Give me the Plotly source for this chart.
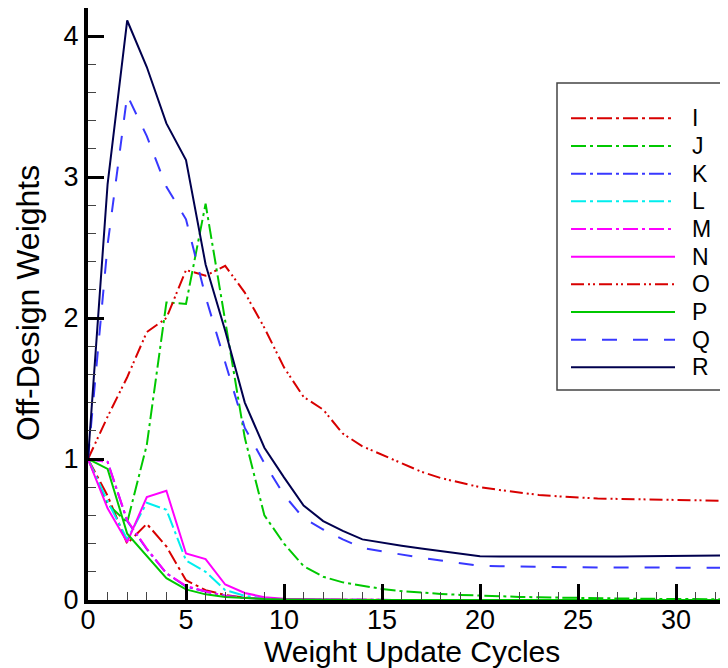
import plotly.graph_objects as go

# ---------------- data ----------------
cycles = list(range(35))

series_names = ["I", "J", "K", "L", "M", "N", "O", "P", "Q", "R"]

vals_I = [1.00, 0.74, 0.40, 0.54, 0.38, 0.14, 0.07, 0.035, 0.017, 0.008,
          0.004, 0.002, 0.001, 0.001, 0.0, 0.0, 0.0, 0.0, 0.0, 0.0,
          0.0, 0.0, 0.0, 0.0, 0.0, 0.0, 0.0, 0.0, 0.0, 0.0,
          0.0, 0.0, 0.0, 0.0, 0.0]
vals_J = [1.00, 0.68, 0.55, 1.10, 2.11, 2.10, 2.81, 1.98, 1.15, 0.60,
          0.40, 0.24, 0.165, 0.125, 0.10, 0.078, 0.063, 0.052, 0.043, 0.036,
          0.030, 0.026, 0.022, 0.019, 0.016, 0.013, 0.011, 0.010, 0.009, 0.008,
          0.007, 0.006, 0.005, 0.005, 0.004]
vals_K = [1.00, 0.98, 0.56, 0.36, 0.19, 0.095, 0.06, 0.03, 0.015, 0.008,
          0.004, 0.002, 0.001, 0.0, 0.0, 0.0, 0.0, 0.0, 0.0, 0.0,
          0.0, 0.0, 0.0, 0.0, 0.0, 0.0, 0.0, 0.0, 0.0, 0.0,
          0.0, 0.0, 0.0, 0.0, 0.0]
vals_L = [1.00, 0.70, 0.43, 0.69, 0.64, 0.28, 0.20, 0.07, 0.03, 0.012,
          0.005, 0.002, 0.001, 0.0, 0.0, 0.0, 0.0, 0.0, 0.0, 0.0,
          0.0, 0.0, 0.0, 0.0, 0.0, 0.0, 0.0, 0.0, 0.0, 0.0,
          0.0, 0.0, 0.0, 0.0, 0.0]
vals_M = [1.00, 0.98, 0.565, 0.365, 0.19, 0.10, 0.06, 0.03, 0.015, 0.008,
          0.004, 0.002, 0.001, 0.0, 0.0, 0.0, 0.0, 0.0, 0.0, 0.0,
          0.0, 0.0, 0.0, 0.0, 0.0, 0.0, 0.0, 0.0, 0.0, 0.0,
          0.0, 0.0, 0.0, 0.0, 0.0]
vals_N = [1.00, 0.65, 0.41, 0.73, 0.775, 0.33, 0.29, 0.11, 0.05, 0.02,
          0.008, 0.004, 0.002, 0.001, 0.0, 0.0, 0.0, 0.0, 0.0, 0.0,
          0.0, 0.0, 0.0, 0.0, 0.0, 0.0, 0.0, 0.0, 0.0, 0.0,
          0.0, 0.0, 0.0, 0.0, 0.0]
vals_O = [1.00, 1.30, 1.58, 1.90, 2.00, 2.34, 2.30, 2.37, 2.18, 1.93,
          1.65, 1.44, 1.35, 1.18, 1.09, 1.03, 0.97, 0.91, 0.865, 0.83,
          0.80, 0.78, 0.76, 0.745, 0.735, 0.725, 0.72, 0.717, 0.714, 0.712,
          0.71, 0.708, 0.705, 0.702, 0.70]
vals_P = [1.00, 0.93, 0.47, 0.31, 0.155, 0.075, 0.04, 0.022, 0.012, 0.007,
          0.004, 0.002, 0.001, 0.0, 0.0, 0.0, 0.0, 0.0, 0.0, 0.0,
          0.0, 0.0, 0.0, 0.0, 0.0, 0.0, 0.0, 0.0, 0.0, 0.0,
          0.0, 0.0, 0.0, 0.0, 0.0]
vals_Q = [1.00, 2.52, 3.58, 3.29, 2.93, 2.70, 2.15, 1.68, 1.22, 0.97,
          0.745, 0.58, 0.50, 0.43, 0.37, 0.345, 0.32, 0.30, 0.28, 0.26,
          0.243, 0.24, 0.237, 0.235, 0.233, 0.232, 0.231, 0.230, 0.230, 0.229,
          0.229, 0.228, 0.228, 0.228, 0.228]
vals_R = [1.00, 2.95, 4.11, 3.78, 3.38, 3.12, 2.38, 1.91, 1.40, 1.08,
          0.87, 0.67, 0.56, 0.49, 0.43, 0.405, 0.385, 0.365, 0.345, 0.325,
          0.31, 0.308, 0.307, 0.307, 0.307, 0.307, 0.308, 0.309, 0.310, 0.311,
          0.312, 0.313, 0.314, 0.316, 0.317]

all_vals = [vals_I, vals_J, vals_K, vals_L, vals_M, vals_N, vals_O, vals_P, vals_Q, vals_R]

x_ticks = [0, 5, 10, 15, 20, 25, 30]
y_ticks = [0, 1, 2, 3, 4]
x_title = "Weight Update Cycles"
y_title = "Off-Design Weights"

# ---------------- styles ----------------
RED = "#d80000"
GREEN = "#00c800"
BLUE = "#3838ff"
CYAN = "#00eeee"
MAG = "#ff00ff"
NAVY = "#00004e"

DASHDOT = "15px,4px,3px,4px"
DASHDOTDOT = "13px,4px,2px,3px,2px,4px"
DASHED = "15px,16px"

styles = [
    (RED, DASHDOT), (GREEN, DASHDOT), (BLUE, DASHDOT), (CYAN, DASHDOT),
    (MAG, DASHDOT), (MAG, "solid"), (RED, DASHDOTDOT), (GREEN, "solid"),
    (BLUE, DASHED), (NAVY, "solid"),
]

FONT = "Liberation Sans, Arial, Helvetica, sans-serif"

fig = go.Figure()
for name, vals, (col, dash) in zip(series_names, all_vals, styles):
    fig.add_trace(go.Scatter(x=cycles, y=vals, mode="lines", name=name,
                             line=dict(color=col, width=2, dash=dash)))

# The page body has an 8px margin, so the figure is 8px smaller than the window
OFF = 8
W, H = 720, 660
ML, MR, MT, MB = 80, 0, 0, 68
PW, PH = W - ML - MR, H - MT - MB
XSCALE = 19.6      # px per x unit
Y_TOP = PH / 141.0  # 141 px per y unit

fig.update_layout(
    width=W, height=H,
    margin=dict(l=ML, r=MR, t=MT, b=MB, pad=0, autoexpand=False),
    paper_bgcolor="white", plot_bgcolor="white",
    showlegend=False,
    font=dict(family=FONT, size=26, color="black"),
)

fig.update_xaxes(
    range=[0, PW / XSCALE], showgrid=False, zeroline=False, automargin=False,
    showline=True, linecolor="black", linewidth=4,
    ticks="inside", ticklen=16, tickwidth=3, tickcolor="black",
    tickvals=x_ticks, ticktext=[str(v) for v in x_ticks],
    tickfont=dict(size=27), ticklabelstandoff=-7,
    minor=dict(ticks="inside", dtick=1, ticklen=8, tickwidth=1, tickcolor="#444444"),
)
fig.update_yaxes(
    range=[0, Y_TOP], showgrid=False, zeroline=False, automargin=False,
    showline=True, linecolor="black", linewidth=4,
    ticks="inside", ticklen=16, tickwidth=3, tickcolor="black",
    tickvals=y_ticks, ticktext=[str(v) for v in y_ticks],
    tickfont=dict(size=27), ticklabelstandoff=0,
    minor=dict(ticks="inside", dtick=0.2, ticklen=8, tickwidth=1, tickcolor="#444444"),
)

def px_to_paper_x(px):
    return (px - OFF - ML) / PW

def px_to_paper_y(py):
    return (OFF + H - MB - py) / PH

# axis titles
fig.add_annotation(xref="paper", yref="paper", x=px_to_paper_x(412), y=px_to_paper_y(651),
                   text=x_title, showarrow=False, xanchor="center", yanchor="middle",
                   font=dict(size=30, family=FONT, color="black"))
fig.add_annotation(xref="paper", yref="paper", x=px_to_paper_x(28), y=px_to_paper_y(303),
                   text=y_title, showarrow=False, xanchor="center", yanchor="middle",
                   textangle=-90, font=dict(size=32, family=FONT, color="black"))

# ---------------- custom legend (long line samples) ----------------
box_l, box_r, box_t, box_b = 557, 725, 83, 390
fig.add_shape(type="rect", xref="paper", yref="paper",
              x0=px_to_paper_x(box_l), x1=px_to_paper_x(box_r),
              y0=px_to_paper_y(box_b), y1=px_to_paper_y(box_t),
              line=dict(color="#444444", width=1.5), fillcolor="white", layer="above")

row0, row_step = 118.3, 27.67
for i, (name, (col, dash)) in enumerate(zip(series_names, styles)):
    py = row0 + row_step * i
    fig.add_shape(type="line", xref="paper", yref="paper",
                  x0=px_to_paper_x(571), x1=px_to_paper_x(675),
                  y0=px_to_paper_y(py), y1=px_to_paper_y(py),
                  line=dict(color=col, width=2, dash=dash), layer="above")
    fig.add_annotation(xref="paper", yref="paper",
                       x=px_to_paper_x(690), y=px_to_paper_y(py),
                       text=name, showarrow=False, xanchor="left", yanchor="middle",
                       font=dict(size=23, family=FONT, color="black"))

fig.write_html("out.html")
